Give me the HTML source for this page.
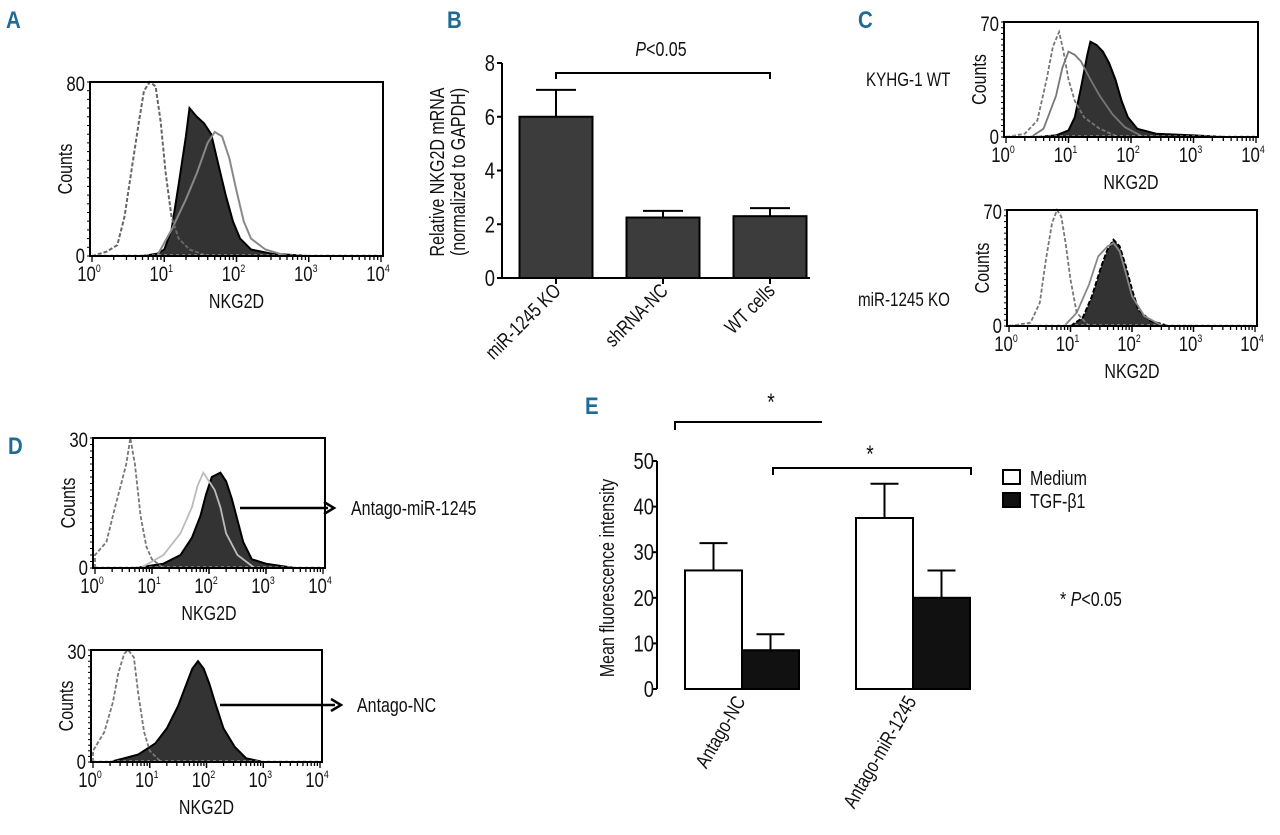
<!DOCTYPE html>
<html><head><meta charset="utf-8">
<style>
html,body{margin:0;padding:0;background:#fff;}
svg{display:block;font-family:"Liberation Sans",sans-serif;}
.pl{font-size:24px;font-weight:bold;fill:#1f6a96;}
</style></head>
<body>
<svg id="fig" width="1280" height="835" viewBox="0 0 1280 835" xmlns="http://www.w3.org/2000/svg">
<text class="pl" x="6" y="28" transform="translate(6,0) scale(0.85,1) translate(-6,0)">A</text>
<text class="pl" x="447" y="28" transform="translate(447,0) scale(0.85,1) translate(-447,0)">B</text>
<text class="pl" x="858" y="28" transform="translate(858,0) scale(0.85,1) translate(-858,0)">C</text>
<text class="pl" x="8" y="454" transform="translate(8,0) scale(0.85,1) translate(-8,0)">D</text>
<text class="pl" x="585" y="414" transform="translate(585,0) scale(0.85,1) translate(-585,0)">E</text>
</svg>
<script>
// ---------- Panel B data ----------
const bCats = ["miR-1245 KO","shRNA-NC","WT cells"];
const bVals = [6.0, 2.25, 2.3];
const bErr = [1.0, 0.25, 0.3];
const bTicks = [0,2,4,6,8];
// ---------- Panel E data ----------
const eCats = ["Antago-NC","Antago-miR-1245"];
const eMedium = [26, 37.5];
const eMediumErr = [6, 7.5];
const eTgf = [8.5, 20];
const eTgfErr = [3.5, 6];
const eTicks = [0,10,20,30,40,50];
// ---------- Histogram data (log10 position, counts) ----------
const aIsoX = [0,0.2,0.35,0.45,0.55,0.65,0.72,0.8,0.88,0.95,1.02,1.1,1.2,1.35,1.6];
const aIsoY = [0,2,5,18,40,62,76,80,78,62,38,18,8,3,0];
const aFillX = [0.7,0.9,1.0,1.1,1.2,1.3,1.35,1.45,1.55,1.65,1.75,1.85,1.95,2.05,2.2,2.5,3.0];
const aFillY = [0,1,3,12,33,55,68,64,61,56,42,28,16,8,3,1,0];
const aGrayX = [0.9,1.1,1.3,1.45,1.6,1.7,1.8,1.9,2.0,2.1,2.2,2.4,2.7];
const aGrayY = [0,12,26,38,52,57,55,45,30,16,8,3,0];

const c1IsoX = [0,0.3,0.5,0.65,0.75,0.85,0.92,1.0,1.1,1.25,1.5,1.8];
const c1IsoY = [0,2,10,35,55,64,52,35,22,12,5,0];
const c1GrayX = [0.4,0.6,0.8,0.9,1.0,1.1,1.2,1.35,1.5,1.7,1.9,2.2];
const c1GrayY = [0,5,25,42,52,50,46,35,25,14,6,0];
const c1FillX = [0.5,0.8,1.0,1.1,1.2,1.3,1.35,1.45,1.55,1.65,1.75,1.85,1.95,2.1,2.4,3.0,3.5];
const c1FillY = [0,1,4,12,30,50,58,56,52,45,35,22,12,5,2,1,0];
const c2IsoX = [0,0.35,0.5,0.6,0.7,0.78,0.85,0.92,1.0,1.1,1.3];
const c2IsoY = [0,2,14,40,62,70,66,50,28,8,0];
const c2GrayX = [0.9,1.1,1.3,1.45,1.6,1.7,1.8,1.9,2.0,2.2,2.5];
const c2GrayY = [0,8,25,42,48,50,45,32,18,6,0];
const c2FillX = [1.0,1.2,1.35,1.5,1.6,1.7,1.8,1.9,2.0,2.1,2.3,2.6];
const c2FillY = [0,5,18,36,46,52,48,36,22,10,3,0];

const d1IsoX = [0,0.2,0.35,0.45,0.55,0.62,0.7,0.8,0.9,1.0,1.2];
const d1IsoY = [3,6,14,19,24,30,24,12,5,2,0];
const d1GrayX = [0.8,1.2,1.5,1.7,1.8,1.9,2.0,2.1,2.2,2.3,2.5,2.8];
const d1GrayY = [0,3,8,14,19,22,20,18,14,8,3,0];
const d1FillX = [0.7,1.2,1.5,1.7,1.85,1.95,2.05,2.2,2.3,2.4,2.5,2.6,2.75,3.0,3.5];
const d1FillY = [0,1,3,7,12,17,21,22,20,16,11,6,2,1,0];
const d2IsoX = [0,0.2,0.35,0.45,0.55,0.62,0.72,0.8,0.9,1.0,1.2];
const d2IsoY = [3,8,16,24,29,30,28,18,8,3,0];
const d2FillX = [0.3,0.8,1.1,1.3,1.5,1.65,1.75,1.85,1.95,2.05,2.15,2.3,2.5,2.7,3.0];
const d2FillY = [0,2,5,9,15,21,25,27,25,21,16,9,4,1,0];

const NS = "http://www.w3.org/2000/svg";
const svg = document.getElementById("fig");
const SX = 0.8;
function mk(tag, attrs, parent){
  const e = document.createElementNS(NS, tag);
  for (const k in attrs) e.setAttribute(k, attrs[k]);
  (parent||svg).appendChild(e);
  return e;
}
// returns a group positioned at (x,y); inner text is horizontally condensed
function txt(x,y,s,size,anchor,parent){
  const g = mk("g",{transform:"translate("+x+","+y+")"},parent);
  const t = mk("text",{x:0,y:0,"font-size":size,"text-anchor":anchor||"middle",fill:"#111",transform:"scale("+SX+",1)"},g);
  t.textContent = s;
  g.inner = t;
  return g;
}

const l1 = txt(866,86,"KYHG-1 WT",19,"start");


const l2 = txt(858,306,"miR-1245 KO",19,"start");



// ---------- Histogram panel ----------
function histPanel(name, bx0, bx1, by0, by1, ymax, curves, showX){
  const g = mk("g",{});
  
  
  const xs = v => bx0 + 2 + (bx1-bx0-4)*v/4;
  const ys = v => by1 - (by1-by0)*v/ymax;
  curves.forEach(c=>{
    let d = "M"+xs(c.x[0])+","+ys(0);
    for (let i=0;i<c.x.length;i++) d += " L"+xs(c.x[i]).toFixed(1)+","+ys(c.y[i]).toFixed(1);
    d += " L"+xs(c.x[c.x.length-1])+","+ys(0);
    const p = mk("path",{d:d, fill:c.fill?"#333":"none", stroke:c.stroke, "stroke-width":c.w||1.5, "stroke-dasharray":c.dash||"none"}, g);
    
    
  });
  mk("line",{x1:bx0+2,x2:bx1-2,y1:by1-1,y2:by1-1,stroke:"#bbb","stroke-width":1,"stroke-dasharray":"3,3"},g);
  const box = mk("rect",{x:bx0,y:by0,width:bx1-bx0,height:by1-by0,fill:"none",stroke:"#000","stroke-width":2},g);
  
  
  for (let dcd=0; dcd<4; dcd++){
    for (let m=1; m<=10; m++){
      const x = xs(dcd + Math.log10(m));
      mk("line",{x1:x,x2:x,y1:by1,y2:by1+(m==1||m==10?6:4),stroke:"#000","stroke-width":1.3},g);
    }
  }
  for (let i=0;i<=20;i++){
    const y = by1 - (by1-by0)*i/20;
    mk("line",{x1:bx0-3,x2:bx0,y1:y,y2:y,stroke:"#000","stroke-width":1},g);
  }
  const expLabels = ["0","1","2","3","4"];
  for (let i=0;i<5;i++){
    const tg = txt(xs(i)-3, by1+25, "10", 21, "middle", g);
    const ts = document.createElementNS(NS,"tspan");
    ts.setAttribute("font-size","11"); ts.setAttribute("dy","-9");
    ts.textContent = expLabels[i]; tg.inner.appendChild(ts);
  }
  txt(bx0-5, by0+9, String(ymax), 21, "end", g);
  txt(bx0-5, by1+7, "0", 21, "end", g);
  const yl = txt(0,0,"Counts",20,"middle",g);
  yl.setAttribute("transform","translate("+(bx0-18)+","+((by0+by1)/2)+") rotate(-90)");
  
  
  if (showX){
    const xl = txt((bx0+bx1)/2, by1+52, "NKG2D", 20, "middle", g);
    
    
  }
}
const DASH = "4,2";
histPanel("histogram-a", 90, 383, 82, 256, 80, [
  {x:aFillX,y:aFillY,fill:true,stroke:"#000",w:2,name:"treated-histogram"},
  {x:aGrayX,y:aGrayY,stroke:"#888",w:2,name:"control-histogram"},
  {x:aIsoX,y:aIsoY,stroke:"#666",w:2,dash:DASH,name:"isotype-histogram"}], true);
histPanel("histogram-c-wt", 1004, 1258, 22, 137, 70, [
  {x:c1FillX,y:c1FillY,fill:true,stroke:"#000",w:2,name:"treated-histogram"},
  {x:c1GrayX,y:c1GrayY,stroke:"#777",w:1.8,name:"control-histogram"},
  {x:c1IsoX,y:c1IsoY,stroke:"#777",w:1.8,dash:DASH,name:"isotype-histogram"}], true);
histPanel("histogram-c-ko", 1007, 1257, 210, 326, 70, [
  {x:c2FillX,y:c2FillY,fill:true,stroke:"#000",w:2,dash:"5,2",name:"treated-histogram"},
  {x:c2GrayX,y:c2GrayY,stroke:"#888",w:1.8,name:"control-histogram"},
  {x:c2IsoX,y:c2IsoY,stroke:"#777",w:1.8,dash:DASH,name:"isotype-histogram"}], true);
histPanel("histogram-d-antago-mir", 93, 325, 438, 568, 30, [
  {x:d1FillX,y:d1FillY,fill:true,stroke:"#000",w:2,name:"treated-histogram"},
  {x:d1GrayX,y:d1GrayY,stroke:"#bbb",w:1.8,name:"control-histogram"},
  {x:d1IsoX,y:d1IsoY,stroke:"#777",w:1.8,dash:DASH,name:"isotype-histogram"}], true);
histPanel("histogram-d-antago-nc", 91, 322, 650, 762, 30, [
  {x:d2FillX,y:d2FillY,fill:true,stroke:"#000",w:2,name:"treated-histogram"},
  {x:d2IsoX,y:d2IsoY,stroke:"#777",w:1.8,dash:DASH,name:"isotype-histogram"}], true);

function arrow(x1,x2,y,label,tx,name){
  const g = mk("g",{});
  
  
  mk("line",{x1:x1,x2:x2-6,y1:y,y2:y,stroke:"#000","stroke-width":2.5},g);
  mk("path",{d:"M"+(x2-10)+","+(y-6)+" L"+x2+","+y+" L"+(x2-10)+","+(y+6),fill:"none",stroke:"#000","stroke-width":2.5},g);
  txt(tx,y+7,label,20,"start",g);
}
arrow(240,334,508,"Antago-miR-1245",351,"arrow-antago-mir");
arrow(220,341,705,"Antago-NC",357,"arrow-antago-nc");

// ---------- Panel B ----------
(function(){
  const g = mk("g",{});
  
  
  const ax = 502, y0 = 278, y8 = 63;
  const yS = v => y0 - (y0-y8)*v/8;
  const xC = i => 556 + 107*i;
  const bw = 73;
  mk("line",{x1:ax,x2:ax,y1:y8,y2:y0,stroke:"#000","stroke-width":2},g);
  mk("line",{x1:ax,x2:810,y1:y0,y2:y0,stroke:"#000","stroke-width":2},g);
  bTicks.forEach(t=>{
    mk("line",{x1:ax-5,x2:ax,y1:yS(t),y2:yS(t),stroke:"#000","stroke-width":2},g);
    txt(ax-7,yS(t)+8,String(t),23,"end",g);
  });
  bVals.forEach((v,i)=>{
    const cx = xC(i);
    mk("line",{x1:cx,x2:cx,y1:yS(v),y2:yS(v+bErr[i]),stroke:"#000","stroke-width":2},g);
    mk("line",{x1:cx-20,x2:cx+20,y1:yS(v+bErr[i]),y2:yS(v+bErr[i]),stroke:"#000","stroke-width":2},g);
    const r = mk("rect",{x:cx-bw/2,y:yS(v),width:bw,height:y0-yS(v),fill:"#3c3c3c",stroke:"#000","stroke-width":2},g);
    
    
    mk("line",{x1:cx,x2:cx,y1:y0,y2:y0+6,stroke:"#000","stroke-width":2},g);
    const t = txt(0,0,bCats[i],20,"end",g);
    t.setAttribute("transform","translate("+(cx+6)+","+(y0+14)+") rotate(-45)");
  });
  mk("path",{d:"M"+xC(0)+",79 L"+xC(0)+",73 L"+xC(2)+",73 L"+xC(2)+",79",fill:"none",stroke:"#000","stroke-width":2},g);
  const p = txt(xC(1)-2,56,"",20,"middle",g);
  p.inner.innerHTML = '<tspan font-style="italic">P</tspan>&lt;0.05';
  const t1 = txt(0,0,"Relative NKG2D mRNA",20,"middle",g);
  t1.setAttribute("transform","translate(444,172) rotate(-90)");
  
  
  const t2 = txt(0,0,"(normalized to GAPDH)",20,"middle",g);
  t2.setAttribute("transform","translate(465,172) rotate(-90)");
})();

// ---------- Panel E ----------
(function(){
  const g = mk("g",{});
  
  
  const ax = 657, y0 = 689, y50 = 461;
  const yS = v => y0 - (y0-y50)*v/50;
  const gx = i => 685 + 171*i;
  const bw = 57;
  mk("line",{x1:ax,x2:ax,y1:y50,y2:y0,stroke:"#000","stroke-width":2},g);
  eTicks.forEach(t=>{
    mk("line",{x1:ax-5,x2:ax,y1:yS(t),y2:yS(t),stroke:"#000","stroke-width":2},g);
    txt(ax-3,yS(t)+8,String(t),23,"end",g);
  });
  eCats.forEach((c,i)=>{
    const x = gx(i);
    [[eMedium,eMediumErr,"#fff","medium"],[eTgf,eTgfErr,"#111","tgf"]].forEach((s,j)=>{
      const v = s[0][i], e = s[1][i];
      const bx = x + j*bw, cx = bx + bw/2;
      mk("line",{x1:cx,x2:cx,y1:yS(v),y2:yS(v+e),stroke:"#000","stroke-width":2},g);
      mk("line",{x1:cx-14,x2:cx+14,y1:yS(v+e),y2:yS(v+e),stroke:"#000","stroke-width":2},g);
      const r = mk("rect",{x:bx,y:yS(v),width:bw,height:y0-yS(v),fill:s[2],stroke:"#000","stroke-width":2},g);
      
      
    });
    const t = txt(0,0,c,20,"end",g);
    t.setAttribute("transform","translate("+(x+bw+4)+","+(y0+12)+") rotate(-60)");
  });
  mk("path",{d:"M675,430 L675,422 L822,422",fill:"none",stroke:"#000","stroke-width":2},g);
  txt(771,410,"*",24,"middle",g);
  mk("path",{d:"M773,475 L773,468 L971,468 L971,475",fill:"none",stroke:"#000","stroke-width":2},g);
  txt(870,462,"*",24,"middle",g);
  const yt = txt(0,0,"Mean fluorescence intensity",20,"middle",g);
  yt.setAttribute("transform","translate(614,578) rotate(-90)");
  
  
  const lg = mk("g",{},g);
  
  
  mk("rect",{x:1003,y:470,width:17,height:14,fill:"#fff",stroke:"#000","stroke-width":2},lg);
  txt(1030,485,"Medium",20,"start",lg);
  mk("rect",{x:1003,y:493,width:17,height:14,fill:"#111",stroke:"#000","stroke-width":2},lg);
  txt(1030,508,"TGF-β1",20,"start",lg);
  const pv = txt(1060,606,"",20,"start",g);
  pv.inner.innerHTML = '* <tspan font-style="italic">P</tspan>&lt;0.05';
})();
</script>
</body></html>
